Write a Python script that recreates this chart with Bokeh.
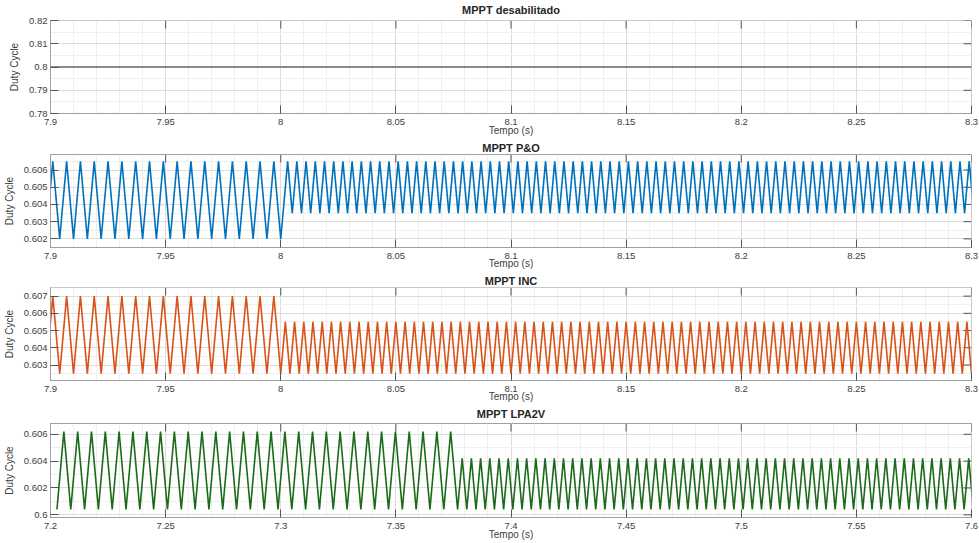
import numpy as np
from bokeh.plotting import figure
from bokeh.layouts import column
from bokeh.models import Range1d, FixedTicker, LinearAxis
from bokeh.embed import file_html
from bokeh.resources import INLINE

FONT = "Liberation Sans"

# ---------------- data ----------------
# time axis ticks
t_ticks_a = [7.9, 7.95, 8.0, 8.05, 8.1, 8.15, 8.2, 8.25, 8.3]
t_labels_a = ["7.9", "7.95", "8", "8.05", "8.1", "8.15", "8.2", "8.25", "8.3"]
t_ticks_b = [7.2, 7.25, 7.3, 7.35, 7.4, 7.45, 7.5, 7.55, 7.6]
t_labels_b = ["7.2", "7.25", "7.3", "7.35", "7.4", "7.45", "7.5", "7.55", "7.6"]

# MPPT disabled: constant duty cycle
off_time = [7.9, 8.3]
off_duty = [0.8, 0.8]
off_yticks = [0.78, 0.79, 0.80, 0.81, 0.82]
off_ylabels = ["0.78", "0.79", "0.8", "0.81", "0.82"]

# P&O: two oscillation regimes (first peak time, period, trough level, peak level)
po_first_peak = [7.901, 8.003]
po_period = [0.006, 0.004]
po_low = [0.6020, 0.6035]
po_high = [0.6065, 0.6065]
po_yticks = [0.602, 0.603, 0.604, 0.605, 0.606]
po_ylabels = ["0.602", "0.603", "0.604", "0.605", "0.606"]

# INC
inc_first_peak = [7.901, 8.002]
inc_period = [0.006, 0.004]
inc_low = [0.6025, 0.6025]
inc_high = [0.6070, 0.6055]
inc_yticks = [0.603, 0.604, 0.605, 0.606, 0.607]
inc_ylabels = ["0.603", "0.604", "0.605", "0.606", "0.607"]

# LPA2V
lpa_first_peak = [7.2058, 7.3788]
lpa_period = [0.006, 0.004]
lpa_low = [0.6004, 0.6004]
lpa_high = [0.6062, 0.6042]
lpa_yticks = [0.600, 0.602, 0.604, 0.606]
lpa_ylabels = ["0.6", "0.602", "0.604", "0.606"]

FRAME_W = 921
TICK_LEN = 8      # px, inward


def oscillation(first_peak, period, low, high, t_end):
    """Vertices of the duty-cycle ripple: regime 0 until regime 1's first peak."""
    ts, ys = [], []
    # regime 0 starts at the trough half a period before its first peak
    half = period[0] / 2
    start = first_peak[0] - half
    i = 0
    while start + i * half < first_peak[1] - 1e-9:
        ts.append(start + i * half)
        ys.append(low[0] if i % 2 == 0 else high[0])
        i += 1
    # regime 1 starts on its first peak
    half = period[1] / 2
    i = 0
    while first_peak[1] + i * half < t_end + period[1]:
        ts.append(first_peak[1] + i * half)
        ys.append(high[1] if i % 2 == 0 else low[1])
        i += 1
    return ts, ys


def panel(title, frame_h, top, title_gap, tempo_gap, xr, xticks, xlabels, yr, yticks, ylabels):
    p = figure(frame_width=FRAME_W, frame_height=frame_h,
               x_range=Range1d(*xr), y_range=Range1d(*yr),
               output_backend="svg", toolbar_location=None,
               min_border_left=48, min_border_right=10,
               min_border_top=top, min_border_bottom=0,
               x_axis_location=None, y_axis_location=None,
               background_fill_color="white", border_fill_color="white",
               outline_line_color="#a0a0a0", outline_line_width=1)

    xspan = xr[1] - xr[0]
    yspan = yr[1] - yr[0]

    xstep = xticks[1] - xticks[0]
    ystep = yticks[1] - yticks[0]
    xminor = list(np.arange(xticks[0], xticks[-1] + 1e-9, xstep / 5))
    yminor = list(np.arange(yticks[0] - ystep, yticks[-1] + ystep + 1e-9, ystep / 2))

    xticker = FixedTicker(ticks=xticks, minor_ticks=xminor)
    yticker = FixedTicker(ticks=yticks, minor_ticks=yminor)

    def style(ax):
        ax.axis_line_color = "#a0a0a0"
        ax.major_tick_line_color = "#555555"
        ax.major_tick_in = TICK_LEN
        ax.major_tick_out = 0
        ax.minor_tick_in = 0
        ax.minor_tick_out = 0
        ax.major_label_text_font = FONT
        ax.major_label_text_font_size = "9.5px"
        ax.major_label_text_color = "#404040"
        ax.axis_label_text_font = FONT
        ax.axis_label_text_font_size = "10px"
        ax.axis_label_text_font_style = "normal"
        ax.axis_label_text_color = "#404040"

    # panel title: label of a bare axis along the top edge
    ta = LinearAxis(ticker=FixedTicker(ticks=[]), axis_label=title)
    ta.axis_line_color = None
    ta.major_tick_line_color = None
    ta.minor_tick_line_color = None
    ta.major_tick_in = 0
    ta.major_tick_out = 0
    ta.minor_tick_in = 0
    ta.minor_tick_out = 0
    ta.major_label_standoff = 0
    ta.axis_label_standoff = title_gap
    ta.axis_label_text_font = FONT
    ta.axis_label_text_font_size = "11px"
    ta.axis_label_text_font_style = "bold"
    ta.axis_label_text_color = "#262626"
    p.add_layout(ta, "above")

    xb = LinearAxis(ticker=xticker, axis_label="Tempo (s)",
                    major_label_overrides=dict(zip(xticks, xlabels)))
    style(xb)
    xb.major_label_standoff = 5
    xb.axis_label_standoff = tempo_gap
    p.add_layout(xb, "below")

    yl = LinearAxis(ticker=yticker, axis_label="Duty Cycle",
                    major_label_overrides=dict(zip(yticks, ylabels)))
    style(yl)
    yl.major_label_standoff = 3
    yl.axis_label_standoff = 6
    p.add_layout(yl, "left")

    # inward tick marks on the top and right edges of the box
    dy = TICK_LEN / frame_h * yspan
    dx = TICK_LEN / FRAME_W * xspan
    p.segment(x0=xticks, y0=[yr[1]] * len(xticks), x1=xticks, y1=[yr[1] - dy] * len(xticks),
              line_color="#555555", line_width=1)
    p.segment(x0=[xr[1]] * len(yticks), y0=yticks, x1=[xr[1] - dx] * len(yticks), y1=yticks,
              line_color="#555555", line_width=1)

    p.xgrid.ticker = xticker
    p.ygrid.ticker = yticker
    for g in (p.xgrid, p.ygrid):
        g.grid_line_color = "#dcdcdc"
        g.grid_line_width = 1
        g.minor_grid_line_color = "#efefef"
        g.minor_grid_line_width = 1
    return p


# panel 1: MPPT disabled
p1 = panel("MPPT desabilitado", 93, 20, 5, -3, (7.9, 8.3), t_ticks_a, t_labels_a,
           (0.78, 0.82), off_yticks, off_ylabels)
p1.line(off_time, off_duty, line_color="#8a8a8a", line_width=2.2)

# panel 2: P&O
p2 = panel("MPPT P&O", 93, 0, 1, -4, (7.9, 8.3), t_ticks_a, t_labels_a,
           (0.6015, 0.6069), po_yticks, po_ylabels)
t, d = oscillation(po_first_peak, po_period, po_low, po_high, 8.3)
p2.line(t, d, line_color="#0072BD", line_width=1.6)

# panel 3: INC
p3 = panel("MPPT INC", 93, 0, 1, -4, (7.9, 8.3), t_ticks_a, t_labels_a,
           (0.6021, 0.6075), inc_yticks, inc_ylabels)
t, d = oscillation(inc_first_peak, inc_period, inc_low, inc_high, 8.3)
p3.line(t, d, line_color="#D95319", line_width=1.6)

# panel 4: LPA2V
p4 = panel("MPPT LPA2V", 94, 0, 4, -3, (7.2, 7.6), t_ticks_b, t_labels_b,
           (0.5998, 0.6068), lpa_yticks, lpa_ylabels)
t, d = oscillation(lpa_first_peak, lpa_period, lpa_low, lpa_high, 7.6)
p4.line(t, d, line_color="#1B6B1B", line_width=1.6)

layout = column(p1, p2, p3, p4, spacing=0)
open("out.html", "w").write(file_html(layout, INLINE))
